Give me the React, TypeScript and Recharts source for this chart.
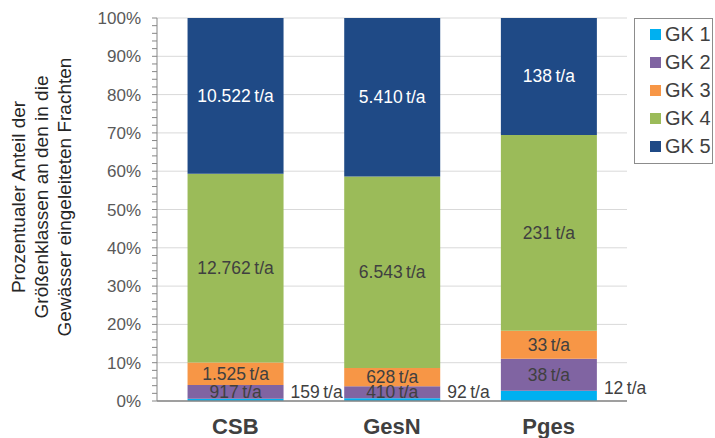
import React from 'react';
import { BarChart, Bar, XAxis, YAxis, CartesianGrid, LabelList } from 'recharts';

const categories = ['CSB', 'GesN', 'Pges'];
const gk1 = [159, 92, 12];
const gk2 = [917, 410, 38];
const gk3 = [1525, 628, 33];
const gk4 = [12762, 6543, 231];
const gk5 = [10522, 5410, 138];
const seriesNames = ['GK 1', 'GK 2', 'GK 3', 'GK 4', 'GK 5'];
const seriesKeys = ['gk1', 'gk2', 'gk3', 'gk4', 'gk5'];
const seriesColors = ['#00B0F0', '#8064A2', '#F79646', '#9BBB59', '#1F4A86'];
const majorTicks = [0, 0.1, 0.2, 0.3, 0.4, 0.5, 0.6, 0.7, 0.8, 0.9, 1];
const yLabelLines = ['Prozentualer Anteil der', 'Größenklassen an den in die', 'Gewässer eingeleiteten Frachten'];

const data = categories.map((c, i) => ({
  name: c,
  gk1: gk1[i],
  gk2: gk2[i],
  gk3: gk3[i],
  gk4: gk4[i],
  gk5: gk5[i],
}));

const allTicks: number[] = [];
for (let i = 0; i <= 50; i++) allTicks.push(i / 50);

const FONT = '"Liberation Sans", Arial, sans-serif';

const fmt = (v: number) => String(v).replace(/\B(?=(\d{3})+(?!\d))/g, '.') + '\u2009t/a';

const YTick = (props: any) => {
  const { x, y, payload } = props;
  const v = Math.round(payload.value * 100);
  if (v % 10 !== 0) return <g />;
  return (
    <text x={x - 9} y={y} dy={6} textAnchor="end" fontSize={17} fill="#595959" fontFamily={FONT}>
      {v}%
    </text>
  );
};

const XTick = (props: any) => {
  const { x, y, payload } = props;
  return (
    <text x={x} y={y} dy={25} textAnchor="middle" fontSize={22} fontWeight="bold" fill="#404040" fontFamily={FONT}>
      {payload.value}
    </text>
  );
};

const YLabel = () => {
  const cy = 197;
  const xs = [18, 41, 64];
  return (
    <g>
      {yLabelLines.map((t, i) => (
        <text
          key={i}
          x={xs[i]}
          y={cy}
          transform={`rotate(-90 ${xs[i]} ${cy})`}
          textAnchor="middle"
          dominantBaseline="central"
          fontSize={19}
          fill="#262626"
          fontFamily={FONT}
        >
          {t}
        </text>
      ))}
    </g>
  );
};

const LegendBox = () => (
  <div
    style={{
      position: 'absolute',
      left: 634,
      top: 18,
      border: '1.5px solid #8c8c8c',
      width: 79,
      height: 146,
      boxSizing: 'border-box',
      padding: '1px 0 0 15px',
      fontFamily: FONT,
      fontSize: 20,
      color: '#404040',
      background: '#fff',
    }}
  >
    {seriesNames.map((n, i) => (
      <div key={n} style={{ display: 'flex', alignItems: 'center', height: 28, whiteSpace: 'nowrap' }}>
        <span style={{ width: 11, height: 11, background: seriesColors[i], display: 'inline-block', marginRight: 4 }} />
        <span>{n}</span>
      </div>
    ))}
  </div>
);

const GK1Label = (props: any) => {
  const { x, y, width, height, value } = props;
  return (
    <text x={x + width + 7} y={y + height / 2} dy={-2} textAnchor="start" fontSize={17.5} fill="#404040" fontFamily={FONT}>
      {fmt(value)}
    </text>
  );
};

const makeCenterLabel = (color: string) => (props: any) => {
  const { x, y, width, height, value } = props;
  return (
    <text x={x + width / 2} y={y + height / 2} dy={6} textAnchor="middle" fontSize={17.5} fill={color} fontFamily={FONT}>
      {fmt(value)}
    </text>
  );
};

export default function App() {
  return (
    <div style={{ position: 'absolute', left: 0, top: 0, width: 715, height: 438, background: '#fff' }}>
      <BarChart
        width={715}
        height={438}
        data={data}
        stackOffset="expand"
        barCategoryGap="19.5%"
        margin={{ top: 18, right: 88, bottom: 0, left: 0 }}
      >
        <CartesianGrid
          vertical={false}
          stroke="#D9D9D9"
          horizontalCoordinatesGenerator={({ offset }: any) =>
            majorTicks.map((t) => offset.top + offset.height * (1 - t))
          }
        />
        <XAxis
          dataKey="name"
          height={37}
          tick={<XTick />}
          tickLine={false}
          axisLine={{ stroke: '#868686', strokeWidth: 1.5 }}
        />
        <YAxis
          width={157}
          domain={[0, 1]}
          ticks={allTicks}
          interval={0}
          tick={<YTick />}
          tickSize={5}
          tickLine={{ stroke: '#868686' }}
          axisLine={{ stroke: '#868686' }}
          label={<YLabel />}
        />
        {seriesKeys.map((k, i) => (
          <Bar key={k} dataKey={k} name={seriesNames[i]} stackId="a" fill={seriesColors[i]} isAnimationActive={false}>
            <LabelList
              dataKey={k}
              content={i === 0 ? <GK1Label /> : makeCenterLabel(i === 4 ? '#ffffff' : '#404040')}
            />
          </Bar>
        ))}
      </BarChart>
      <LegendBox />
    </div>
  );
}
